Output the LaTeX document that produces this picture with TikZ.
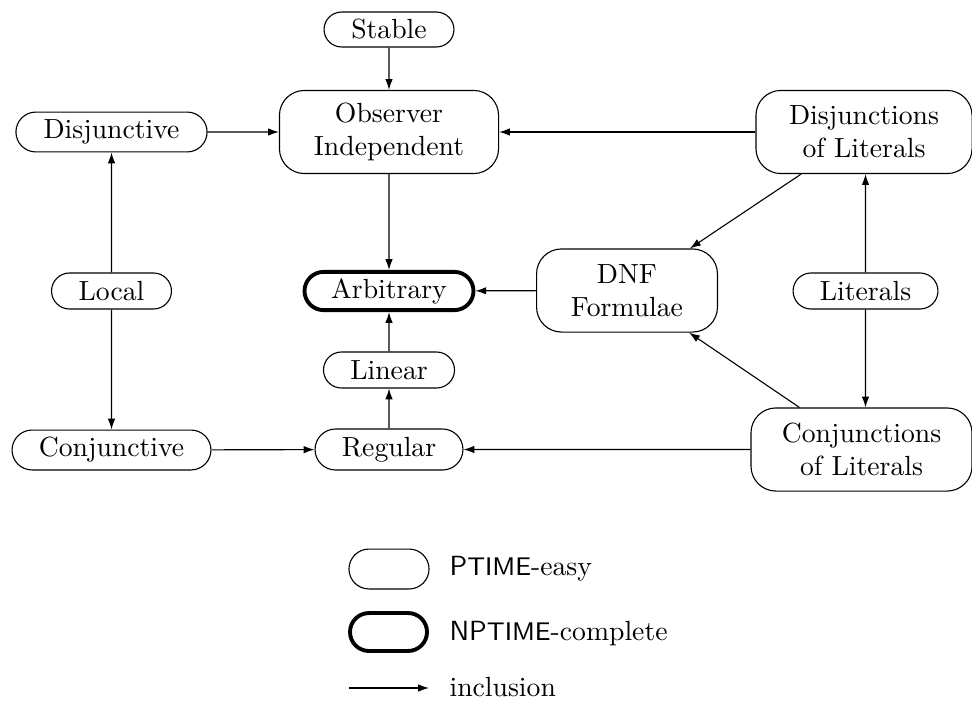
\documentclass[tikz,border=0pt]{standalone}
\usetikzlibrary{arrows.meta,shapes.misc}

% small sans capitals for the complexity class names
\newcommand{\cls}[1]{\textsf{#1}}
\newcommand{\smcap}[1]{{\fontsize{9.2pt}{10pt}\selectfont #1}}

\begin{document}
\begin{tikzpicture}[x=0.361pt, y=-0.361pt,
  pill/.style={draw, rounded rectangle, inner sep=0pt, line width=0.4pt},
  hard/.style={pill, line width=1.4pt},
  blob/.style={draw, rectangle, rounded corners=9pt, align=center,
               inner sep=0pt, minimum height=30pt, line width=0.4pt},
  incl/.style={-{Latex[length=3.9pt,width=2.7pt]}, line width=0.4pt},
  legtext/.style={anchor=base west, inner sep=0pt}
]
\useasboundingbox (0,0) rectangle (972,700);

% classes of the diagram
\node[pill, minimum width=46.9pt, minimum height=12.6pt] (stable) at (389,29.5) {Stable};
\node[blob, minimum width=79.1pt] (obs) at (389,132) {Observer\\Independent};
\node[hard, minimum width=61.0pt, minimum height=13.8pt] (arb) at (389,291) {Arbitrary};
\node[pill, minimum width=69.0pt, minimum height=14.4pt] (disj) at (111.5,132) {Disjunctive};
\node[pill, minimum width=43.3pt, minimum height=13.0pt] (local) at (111.5,291) {Local};
\node[pill, minimum width=71.8pt, minimum height=14.4pt] (conj) at (111.5,450) {Conjunctive};
\node[pill, minimum width=47.3pt, minimum height=13.0pt] (linear) at (389,370) {Linear};
\node[pill, minimum width=53.4pt, minimum height=14.8pt] (regular) at (389,449.5) {Regular};
\node[blob, minimum width=65.3pt] (dnf) at (627,290.5) {DNF\\Formulae};
\node[blob, minimum width=78.0pt] (dlit) at (864,132) {Disjunctions\\of Literals};
\node[pill, minimum width=52.3pt, minimum height=13.0pt] (lit) at (865.5,291) {Literals};
\node[blob, minimum width=79.8pt] (clit) at (861.5,449.5) {Conjunctions\\of Literals};

% inclusions
\draw[incl] (stable) -- (obs);
\draw[incl] (disj) -- (obs);
\draw[incl] (dlit.west |- obs) -- (obs);
\draw[incl] (obs) -- (arb);
\draw[incl] (dnf) -- (arb);
\draw[incl] (linear) -- (arb);
\draw[incl] (regular) -- (linear);
\draw[incl] (conj) -- (regular);
\draw[incl] (clit.west |- regular) -- (regular);
\draw[incl] (local) -- (disj);
\draw[incl] (local) -- (conj);
\draw[incl] (lit) -- (lit |- dlit.south);
\draw[incl] (lit) -- (lit |- clit.north);
\draw[incl] (dlit) -- (dnf);
\draw[incl] (clit) -- (dnf);

% legend
\node[pill, minimum width=28.9pt, minimum height=14.4pt] (legeasy) at (389,569) {};
\node[hard, minimum width=27.8pt, minimum height=13.7pt] (leghard) at (388.5,632) {};
\coordinate (arrfrom) at (349,688);
\coordinate (arrto) at (429,688);
\draw[incl] (arrfrom) -- (arrto);
\node[legtext] (teasy) at (449,575) {\cls{P\smcap{TIME}}-easy};
\node[legtext] (thard) at (449,640) {\cls{NP\smcap{TIME}}-complete};
\node[legtext] (tincl) at (449,696) {inclusion};
\end{tikzpicture}
\end{document}
